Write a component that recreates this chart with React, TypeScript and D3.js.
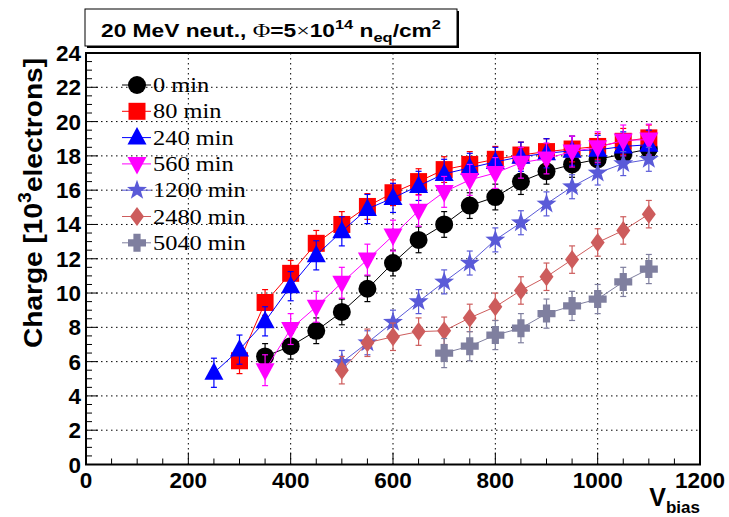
import React from 'react';
import * as d3 from 'd3';

// ---------- data ----------
const SERIES_LABELS = ['0 min', '80 min', '240 min', '560 min', '1200 min', '2480 min', '5040 min'];
const SERIES_COLORS = ['#000000', '#ff0000', '#0000ff', '#ff00ff', '#5a5ad8', '#cd5c5c', '#7f7f9f'];
const SERIES_MARKERS = ['circle', 'square', 'triangleUp', 'triangleDown', 'star', 'diamond', 'cross'];

const V_0MIN = [350, 400, 450, 500, 550, 600, 650, 700, 750, 800, 850, 900, 950, 1000, 1050, 1100];
const Q_0MIN = [6.3, 6.9, 7.8, 8.9, 10.25, 11.75, 13.1, 14.0, 15.1, 15.6, 16.5, 17.1, 17.5, 17.8, 18.1, 18.4];

const V_80MIN = [300, 350, 400, 450, 500, 550, 600, 650, 700, 750, 800, 850, 900, 950, 1000, 1050, 1100];
const Q_80MIN = [6.05, 9.45, 11.15, 12.9, 14.0, 15.05, 15.85, 16.5, 17.2, 17.5, 17.8, 18.05, 18.25, 18.4, 18.55, 18.85, 19.05];

const V_240MIN = [250, 300, 350, 400, 450, 500, 550, 600, 650, 700, 750, 800, 850, 900, 950, 1000, 1050, 1100];
const Q_240MIN = [5.35, 6.7, 8.35, 10.4, 12.2, 13.6, 14.9, 15.55, 16.25, 16.95, 17.3, 17.65, 17.95, 18.15, 18.3, 18.35, 18.55, 18.65];

const V_560MIN = [350, 400, 450, 500, 550, 600, 650, 700, 750, 800, 850, 900, 950, 1000, 1050, 1100];
const Q_560MIN = [5.5, 7.9, 9.2, 10.6, 11.95, 13.35, 14.8, 15.9, 16.6, 17.0, 17.6, 17.85, 18.25, 18.5, 18.9, 18.95];

const V_1200MIN = [500, 550, 600, 650, 700, 750, 800, 850, 900, 950, 1000, 1050, 1100];
const Q_1200MIN = [5.95, 7.1, 8.3, 9.5, 10.65, 11.75, 13.1, 14.1, 15.2, 16.2, 17.0, 17.55, 17.8];

const V_2480MIN = [500, 550, 600, 650, 700, 750, 800, 850, 900, 950, 1000, 1050, 1100];
const Q_2480MIN = [5.5, 7.1, 7.45, 7.75, 7.8, 8.55, 9.2, 10.15, 10.95, 11.95, 12.95, 13.65, 14.6];

const V_5040MIN = [700, 750, 800, 850, 900, 950, 1000, 1050, 1100];
const Q_5040MIN = [6.5, 6.9, 7.55, 7.95, 8.8, 9.25, 9.65, 10.65, 11.4];

const SERIES_ERR = [0.75, 0.75, 0.85, 0.9, 0.7, 0.8, 0.85];

const SERIES_V = [V_0MIN, V_80MIN, V_240MIN, V_560MIN, V_1200MIN, V_2480MIN, V_5040MIN];
const SERIES_Q = [Q_0MIN, Q_80MIN, Q_240MIN, Q_560MIN, Q_1200MIN, Q_2480MIN, Q_5040MIN];

const X_TICKS = [0, 200, 400, 600, 800, 1000, 1200];
const Y_TICKS = [0, 2, 4, 6, 8, 10, 12, 14, 16, 18, 20, 22, 24];
const X_GRID = [200, 400, 600, 800, 1000];
const Y_GRID = [2, 4, 6, 8, 10, 12, 14, 16, 18, 20, 22];

// ---------- layout ----------
const W = 729;
const H = 517;
const LEFT = 86;
const RIGHT = 700;
const TOP = 53;
const BOTTOM = 464.5;

const SANS = '"Liberation Sans", Arial, Helvetica, sans-serif';
const SERIF = '"Liberation Serif", "Times New Roman", serif';

function markerPath(type: string, cx: number, cy: number): string {
  const p = d3.path();
  switch (type) {
    case 'circle':
      p.arc(cx, cy, 9, 0, Math.PI * 2);
      break;
    case 'square':
      p.rect(cx - 8.5, cy - 8.5, 17, 17);
      break;
    case 'triangleUp':
      p.moveTo(cx, cy - 10.5);
      p.lineTo(cx + 9.5, cy + 7);
      p.lineTo(cx - 9.5, cy + 7);
      p.closePath();
      break;
    case 'triangleDown':
      p.moveTo(cx, cy + 10.5);
      p.lineTo(cx + 9.5, cy - 7);
      p.lineTo(cx - 9.5, cy - 7);
      p.closePath();
      break;
    case 'star': {
      const R = 10.5;
      const r = 4.2;
      for (let i = 0; i < 10; i++) {
        const a = -Math.PI / 2 + (i * Math.PI) / 5;
        const rad = i % 2 === 0 ? R : r;
        const px = cx + rad * Math.cos(a);
        const py = cy + rad * Math.sin(a);
        if (i === 0) p.moveTo(px, py);
        else p.lineTo(px, py);
      }
      p.closePath();
      break;
    }
    case 'diamond':
      p.moveTo(cx, cy - 9.5);
      p.lineTo(cx + 7, cy);
      p.lineTo(cx, cy + 9.5);
      p.lineTo(cx - 7, cy);
      p.closePath();
      break;
    case 'cross': {
      const a = 9;
      const t = 3.6;
      p.moveTo(cx - t, cy - a);
      p.lineTo(cx + t, cy - a);
      p.lineTo(cx + t, cy - t);
      p.lineTo(cx + a, cy - t);
      p.lineTo(cx + a, cy + t);
      p.lineTo(cx + t, cy + t);
      p.lineTo(cx + t, cy + a);
      p.lineTo(cx - t, cy + a);
      p.lineTo(cx - t, cy + t);
      p.lineTo(cx - a, cy + t);
      p.lineTo(cx - a, cy - t);
      p.lineTo(cx - t, cy - t);
      p.closePath();
      break;
    }
  }
  return p.toString();
}

export default function App() {
  const x = d3.scaleLinear().domain([0, 1200]).range([LEFT, RIGHT]);
  const y = d3.scaleLinear().domain([0, 24]).range([BOTTOM, TOP]);
  const line = d3
    .line<[number, number]>()
    .x((d) => x(d[0]))
    .y((d) => y(d[1]));

  const xMinor = d3.range(0, 1201, 50);
  const yMinor = d3.range(0, 24.01, 0.5);

  const legendX = 137;
  const legendY0 = 85;
  const legendDy = 26.3;

  return (
    <svg
      width={W}
      height={H}
      style={{ position: 'absolute', left: 0, top: 0, background: '#fff' }}
    >
      <rect x={0} y={0} width={W} height={H} fill="#fff" />

      {/* grid */}
      <g stroke="#000" strokeWidth={1} strokeDasharray="1.5,3.5">
        {X_GRID.map((v) => (
          <line key={'gx' + v} x1={x(v)} x2={x(v)} y1={TOP} y2={BOTTOM} />
        ))}
        {Y_GRID.map((v) => (
          <line key={'gy' + v} x1={LEFT} x2={RIGHT} y1={y(v)} y2={y(v)} />
        ))}
      </g>

      {/* ticks */}
      <g stroke="#000" strokeWidth={1}>
        {xMinor.map((v) => {
          const major = v % 200 === 0;
          return (
            <line
              key={'tx' + v}
              x1={x(v)}
              x2={x(v)}
              y1={BOTTOM}
              y2={BOTTOM - (major ? 12 : 6)}
            />
          );
        })}
        {yMinor.map((v) => {
          const major = Math.abs(v / 2 - Math.round(v / 2)) < 1e-6;
          return (
            <line
              key={'ty' + v}
              x1={LEFT}
              x2={LEFT + (major ? 12 : 6)}
              y1={y(v)}
              y2={y(v)}
            />
          );
        })}
      </g>

      {/* frame */}
      <rect
        x={LEFT}
        y={TOP}
        width={RIGHT - LEFT}
        height={BOTTOM - TOP}
        fill="none"
        stroke="#000"
        strokeWidth={2}
      />

      {/* tick labels */}
      <g fontFamily={SANS} fontWeight="bold" fontSize={22.5} fill="#000">
        {X_TICKS.map((v) => (
          <text key={'lx' + v} x={x(v)} y={488} textAnchor="middle">
            {v}
          </text>
        ))}
        {Y_TICKS.map((v) => (
          <text key={'ly' + v} x={81} y={y(v) + 8} textAnchor="end">
            {v}
          </text>
        ))}
      </g>

      {/* axis titles */}
      <text
        transform={`translate(42,${TOP + 5}) rotate(-90)`}
        textAnchor="end"
        fontFamily={SANS}
        fontWeight="bold"
        fontSize={26}
        fill="#000"
        textLength={290}
        lengthAdjust="spacingAndGlyphs"
      >
        Charge [10<tspan dy={-11} fontSize={18}>3</tspan>
        <tspan dy={11}>electrons]</tspan>
      </text>
      <text x={RIGHT} y={506} textAnchor="end" fontFamily={SANS} fontWeight="bold" fontSize={25} fill="#000">
        V<tspan dy={7} fontSize={17}>bias</tspan>
      </text>

      {/* series */}
      {SERIES_V.map((vs, si) => {
        const qs = SERIES_Q[si];
        const color = SERIES_COLORS[si];
        const err = SERIES_ERR[si];
        const pts: [number, number][] = vs.map((v, i) => [v, qs[i]]);
        return (
          <g key={'s' + si}>
            <path d={line(pts) || ''} fill="none" stroke={color} strokeWidth={1} />
            <g stroke={color} strokeWidth={1.2}>
              {pts.map((d, i) => (
                <g key={'e' + i}>
                  <line x1={x(d[0])} x2={x(d[0])} y1={y(d[1] - err)} y2={y(d[1] + err)} />
                  <line x1={x(d[0]) - 3} x2={x(d[0]) + 3} y1={y(d[1] - err)} y2={y(d[1] - err)} />
                  <line x1={x(d[0]) - 3} x2={x(d[0]) + 3} y1={y(d[1] + err)} y2={y(d[1] + err)} />
                </g>
              ))}
            </g>
            {pts.map((d, i) => (
              <path key={'m' + i} d={markerPath(SERIES_MARKERS[si], x(d[0]), y(d[1]))} fill={color} />
            ))}
          </g>
        );
      })}

      {/* legend */}
      {SERIES_LABELS.map((lab, i) => {
        const ly = legendY0 + i * legendDy;
        return (
          <g key={'lg' + i}>
            <line x1={legendX - 15} x2={legendX + 14} y1={ly} y2={ly} stroke={SERIES_COLORS[i]} strokeWidth={1} />
            <path d={markerPath(SERIES_MARKERS[i], legendX, ly)} fill={SERIES_COLORS[i]} />
            <text
              transform={`translate(153,${ly + 7}) scale(1.22,1)`}
              fontFamily={SERIF}
              fontSize={20}
              fill="#000"
            >
              {lab}
            </text>
          </g>
        );
      })}

      {/* title box */}
      <rect x={87} y={11} width={372} height={37} fill="#000" />
      <rect x={85} y={9} width={372} height={37} fill="#fff" stroke="#000" strokeWidth={1} />
      <text
        x={101}
        y={37}
        fontFamily={SANS}
        fontWeight="bold"
        fontSize={18}
        fill="#000"
        textLength={340}
        lengthAdjust="spacingAndGlyphs"
      >
        20 MeV neut., <tspan fontFamily={SERIF} fontWeight="normal" fontSize={19}>Φ</tspan>=5<tspan fontFamily={SERIF} fontWeight="normal" fontSize={19}>×</tspan>10<tspan dy={-8} fontSize={13}>14</tspan>
        <tspan dy={8}> n</tspan>
        <tspan dy={5} fontSize={13}>eq</tspan>
        <tspan dy={-5}>/cm</tspan>
        <tspan dy={-8} fontSize={13}>2</tspan>
      </text>
    </svg>
  );
}
